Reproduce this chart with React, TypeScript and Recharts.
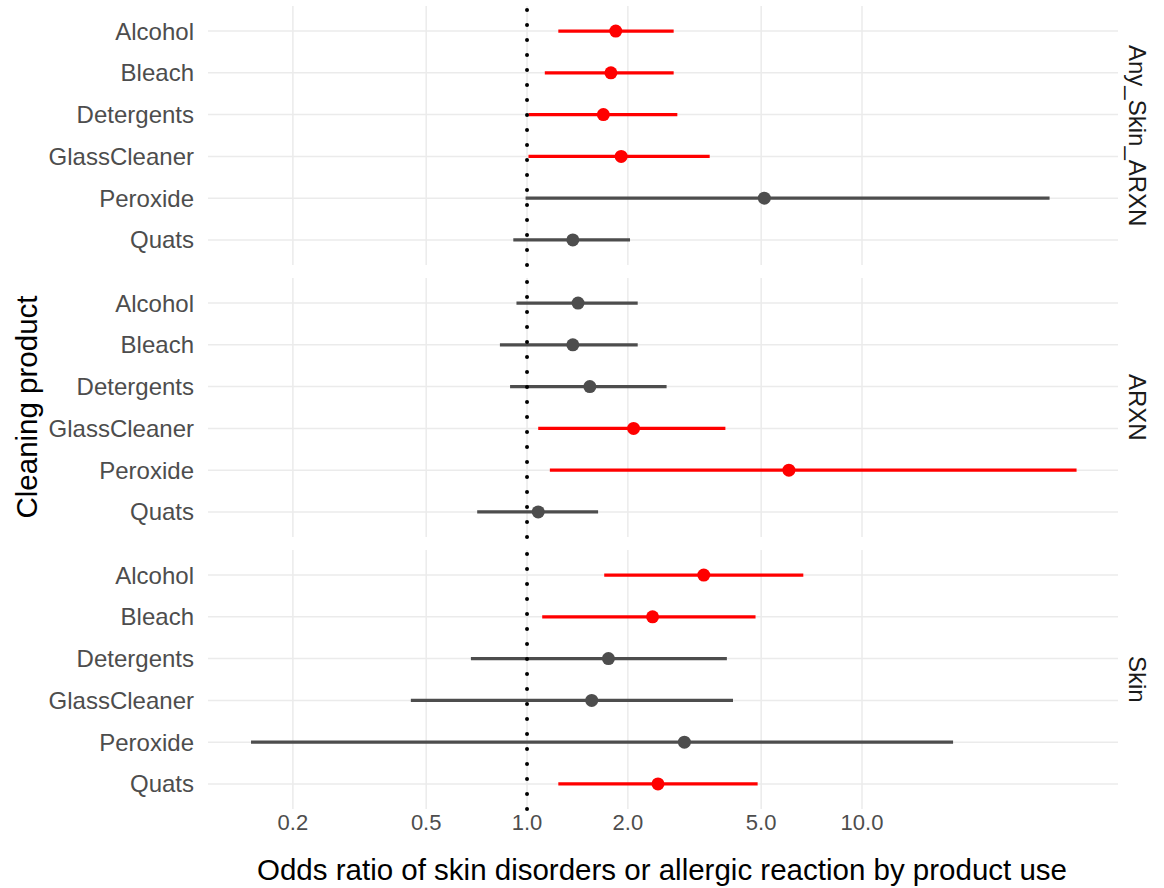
import React from 'react'
import {
  ScatterChart,
  Scatter,
  XAxis,
  YAxis,
  ReferenceLine,
} from 'recharts'

const products = ['Alcohol', 'Bleach', 'Detergents', 'GlassCleaner', 'Peroxide', 'Quats']
const xTicks = [0.2, 0.5, 1, 2, 5, 10]
const yTicks = [1, 2, 3, 4, 5, 6]

// Any_Skin_ARXN
const anyOr = [1.84, 1.78, 1.69, 1.91, 5.11, 1.37]
const anyLow = [1.24, 1.13, 1.01, 1.01, 0.99, 0.91]
const anyHigh = [2.74, 2.74, 2.81, 3.51, 36.3, 2.03]

// ARXN
const arxnOr = [1.42, 1.37, 1.54, 2.08, 6.05, 1.08]
const arxnLow = [0.93, 0.83, 0.89, 1.08, 1.17, 0.71]
const arxnHigh = [2.14, 2.14, 2.61, 3.91, 43.7, 1.63]

// Skin
const skinOr = [3.37, 2.37, 1.75, 1.56, 2.95, 2.46]
const skinLow = [1.7, 1.11, 0.68, 0.45, 0.15, 1.24]
const skinHigh = [6.68, 4.81, 3.95, 4.12, 18.7, 4.88]

const RED = '#FF0000'
const GREY = '#4D4D4D'
const GRID = '#EBEBEB'
const FONT = '"Liberation Sans", Arial, sans-serif'

const W = 1164
const PLOT_H = 259

interface PanelProps {
  label: string
  or: number[]
  low: number[]
  high: number[]
  top: number
  showX?: boolean
}

const Dot = (props: any) => {
  const { cx, cy, payload } = props
  if (cx == null || cy == null) return null
  return <circle cx={cx} cy={cy} r={6.5} fill={payload.low > 1 ? RED : GREY} />
}

function Panel({ label, or, low, high, top, showX }: PanelProps) {
  const rows = products.map((p, i) => ({
    product: p,
    y: i + 1,
    or: or[i],
    low: low[i],
    high: high[i],
  }))
  const h = showX ? 300 : 272
  return (
    <div style={{ position: 'absolute', left: 0, top, width: W, height: h }}>
      <ScatterChart
        width={W}
        height={h}
        margin={{ top: 6, right: 46, bottom: h - 6 - PLOT_H - (showX ? 35 : 0), left: 0 }}
      >
        <XAxis
          dataKey="or"
          type="number"
          scale="log"
          domain={[0.1116, 58.1]}
          allowDataOverflow
          ticks={xTicks}
          interval={0}
          hide={!showX}
          height={35}
          axisLine={false}
          tickLine={false}
          tickSize={0}
          tickMargin={5}
          tick={{ fontSize: 22, fill: GREY, fontFamily: FONT }}
          tickFormatter={(v: number) => v.toFixed(1)}
        />
        <YAxis
          dataKey="y"
          type="number"
          domain={[0.4, 6.6]}
          reversed
          allowDataOverflow
          ticks={yTicks}
          interval={0}
          width={208}
          axisLine={false}
          tickLine={false}
          tickSize={0}
          tickMargin={14}
          tick={{ fontSize: 24, fill: GREY, fontFamily: FONT }}
          tickFormatter={(v: number) => products[v - 1]}
        />
        {xTicks.map((t) => (
          <ReferenceLine key={'gx' + t} x={t} stroke={GRID} strokeWidth={1.5} />
        ))}
        {yTicks.map((t) => (
          <ReferenceLine key={'gy' + t} y={t} stroke={GRID} strokeWidth={1.5} />
        ))}
        {rows.map((r) => (
          <ReferenceLine
            key={r.product}
            segment={[
              { x: r.low, y: r.y },
              { x: r.high, y: r.y },
            ]}
            stroke={r.low > 1 ? RED : GREY}
            strokeWidth={3.2}
          />
        ))}
        <ReferenceLine
          x={1}
          stroke="#000000"
          strokeWidth={4}
          strokeDasharray="0 15"
          strokeLinecap="round"
        />
        <Scatter data={rows} shape={<Dot />} isAnimationActive={false} />
      </ScatterChart>
      <div
        style={{
          position: 'absolute',
          left: 1123,
          top: 6,
          height: PLOT_H,
          width: 28,
          display: 'flex',
          alignItems: 'center',
          justifyContent: 'center',
          writingMode: 'vertical-rl',
          fontSize: 24,
          color: '#1A1A1A',
          fontFamily: FONT,
        }}
      >
        {label}
      </div>
    </div>
  )
}

export default function App() {
  return (
    <div
      style={{
        position: 'absolute',
        left: 0,
        top: 0,
        width: W,
        height: 888,
        background: '#FFFFFF',
        fontFamily: FONT,
        overflow: 'hidden',
      }}
    >
      <Panel label="Any_Skin_ARXN" or={anyOr} low={anyLow} high={anyHigh} top={0} />
      <Panel label="ARXN" or={arxnOr} low={arxnLow} high={arxnHigh} top={272} />
      <Panel label="Skin" or={skinOr} low={skinLow} high={skinHigh} top={544} showX />
      <div
        style={{
          position: 'absolute',
          left: 27,
          top: 407,
          transform: 'translate(-50%, -50%) rotate(-90deg)',
          whiteSpace: 'nowrap',
          fontSize: 29.5,
          color: '#000000',
        }}
      >
        Cleaning product
      </div>
      <div
        style={{
          position: 'absolute',
          left: 662,
          top: 870,
          transform: 'translate(-50%, -50%)',
          whiteSpace: 'nowrap',
          fontSize: 29.5,
          color: '#000000',
        }}
      >
        Odds ratio of skin disorders or allergic reaction by product use
      </div>
    </div>
  )
}
